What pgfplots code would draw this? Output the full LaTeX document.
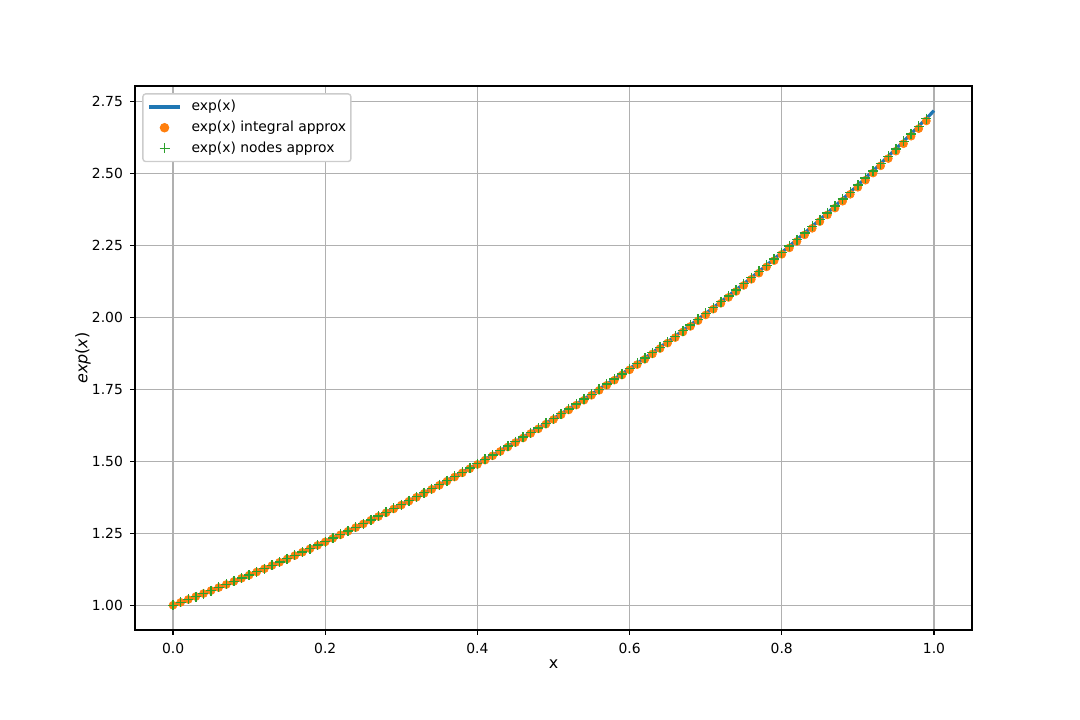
\documentclass[border=0pt]{standalone}
\usepackage{fontspec}
\setmainfont{DejaVu Sans}
\usepackage{pgfplots}
\usepackage{pgfplotstable}
\pgfplotsset{compat=1.18}

\definecolor{tabblue}{HTML}{1F77B4}
\definecolor{taborange}{HTML}{FF7F0E}
\definecolor{tabgreen}{HTML}{2CA02C}
\definecolor{gridgray}{HTML}{B0B0B0}
\definecolor{legendgray}{HTML}{CCCCCC}

\pgfplotsset{
  legline/.style={legend image code/.code={\draw[##1] (0pt,0pt) -- (22pt,0pt);}},
  legmark/.style={legend image code/.code={\draw[##1] plot coordinates {(11pt,0pt)};}},
}

% x, exp(x), integral approximation, nodes approximation
\pgfplotstableread{
x exact integral nodes
0.00 1.00000 1.00000 1.00000
0.01 1.01005 1.01000 1.01005
0.02 1.02020 1.02010 1.02020
0.03 1.03045 1.03030 1.03045
0.04 1.04081 1.04061 1.04081
0.05 1.05127 1.05101 1.05127
0.06 1.06184 1.06153 1.06184
0.07 1.07251 1.07215 1.07251
0.08 1.08329 1.08287 1.08329
0.09 1.09417 1.09370 1.09417
0.10 1.10517 1.10464 1.10517
0.11 1.11628 1.11570 1.11628
0.12 1.12750 1.12686 1.12750
0.13 1.13883 1.13814 1.13883
0.14 1.15027 1.14952 1.15027
0.15 1.16183 1.16102 1.16183
0.16 1.17351 1.17264 1.17351
0.17 1.18530 1.18437 1.18530
0.18 1.19722 1.19623 1.19722
0.19 1.20925 1.20820 1.20925
0.20 1.22140 1.22029 1.22140
0.21 1.23368 1.23251 1.23368
0.22 1.24608 1.24485 1.24608
0.23 1.25860 1.25731 1.25860
0.24 1.27125 1.26989 1.27125
0.25 1.28403 1.28261 1.28403
0.26 1.29693 1.29545 1.29693
0.27 1.30996 1.30841 1.30996
0.28 1.32313 1.32151 1.32313
0.29 1.33643 1.33475 1.33643
0.30 1.34986 1.34811 1.34986
0.31 1.36343 1.36161 1.36343
0.32 1.37713 1.37524 1.37713
0.33 1.39097 1.38902 1.39097
0.34 1.40495 1.40293 1.40495
0.35 1.41907 1.41697 1.41907
0.36 1.43333 1.43116 1.43333
0.37 1.44773 1.44549 1.44773
0.38 1.46228 1.45997 1.46228
0.39 1.47698 1.47460 1.47698
0.40 1.49182 1.48936 1.49182
0.41 1.50682 1.50429 1.50682
0.42 1.52196 1.51935 1.52196
0.43 1.53726 1.53457 1.53726
0.44 1.55271 1.54995 1.55271
0.45 1.56831 1.56547 1.56831
0.46 1.58407 1.58115 1.58407
0.47 1.59999 1.59699 1.59999
0.48 1.61607 1.61299 1.61607
0.49 1.63232 1.62916 1.63232
0.50 1.64872 1.64548 1.64872
0.51 1.66529 1.66196 1.66529
0.52 1.68203 1.67862 1.68203
0.53 1.69893 1.69544 1.69893
0.54 1.71601 1.71243 1.71601
0.55 1.73325 1.72958 1.73325
0.56 1.75067 1.74692 1.75067
0.57 1.76827 1.76443 1.76827
0.58 1.78604 1.78211 1.78604
0.59 1.80399 1.79997 1.80399
0.60 1.82212 1.81801 1.82212
0.61 1.84043 1.83623 1.84043
0.62 1.85893 1.85464 1.85893
0.63 1.87761 1.87322 1.87761
0.64 1.89648 1.89200 1.89648
0.65 1.91554 1.91096 1.91554
0.66 1.93479 1.93012 1.93479
0.67 1.95424 1.94947 1.95424
0.68 1.97388 1.96901 1.97388
0.69 1.99372 1.98875 1.99372
0.70 2.01375 2.00868 2.01375
0.71 2.03399 2.02882 2.03399
0.72 2.05443 2.04916 2.05443
0.73 2.07508 2.06970 2.07508
0.74 2.09594 2.09046 2.09594
0.75 2.11700 2.11141 2.11700
0.76 2.13828 2.13259 2.13828
0.77 2.15977 2.15397 2.15977
0.78 2.18147 2.17556 2.18147
0.79 2.20340 2.19738 2.20340
0.80 2.22554 2.21941 2.22554
0.81 2.24791 2.24167 2.24791
0.82 2.27050 2.26415 2.27050
0.83 2.29332 2.28685 2.29332
0.84 2.31637 2.30979 2.31637
0.85 2.33965 2.33295 2.33965
0.86 2.36316 2.35634 2.36316
0.87 2.38691 2.37998 2.38691
0.88 2.41090 2.40385 2.41090
0.89 2.43513 2.42795 2.43513
0.90 2.45960 2.45230 2.45960
0.91 2.48432 2.47690 2.48432
0.92 2.50929 2.50174 2.50929
0.93 2.53451 2.52684 2.53451
0.94 2.55998 2.55218 2.55998
0.95 2.58571 2.57778 2.58571
0.96 2.61170 2.60364 2.61170
0.97 2.63794 2.62975 2.63794
0.98 2.66446 2.65614 2.66446
0.99 2.69123 2.68277 2.69123
1.00 2.71828 nan nan
}\expdata

\begin{document}
\begin{tikzpicture}
  \useasboundingbox (0,0) rectangle (777.6pt,518.4pt);
  \begin{axis}[
      at={(97.2pt,64.8pt)}, anchor=south west,
      scale only axis,
      width=602.64pt, height=391.68pt,
      xmin=-0.05, xmax=1.05,
      ymin=0.914086, ymax=2.804196,
      xtick={0,0.2,0.4,0.6,0.8,1.0},
      ytick={1.00,1.25,1.50,1.75,2.00,2.25,2.50,2.75},
      scaled ticks=false,
      /pgf/number format/assume math mode=true,
      xticklabel={\pgfmathprintnumber[assume math mode=true, fixed, fixed zerofill, precision=1]{\tick}},
      yticklabel={\pgfmathprintnumber[assume math mode=true, fixed, fixed zerofill, precision=2]{\tick}},
      tick label style={font=\fontsize{10}{12}\selectfont, inner sep=0pt},
      xticklabel style={anchor=north, yshift=-5.8pt},
      yticklabel style={anchor=east, xshift=-5pt},
      tick pos=left,
      tick align=outside,
      major tick length=3.5pt,
      tick style={black, line width=0.8pt},
      axis line style={black, line width=0.8pt},
      grid=major,
      grid style={gridgray, line width=0.8pt},
      unbounded coords=discard,
      xlabel={x},
      ylabel={{\itshape exp}({\itshape x})},
      label style={font=\fontsize{11.5}{13}\selectfont, inner sep=0pt},
      xlabel style={at={(axis description cs:0.5,-0.070)}, anchor=base},
      ylabel style={at={(axis description cs:-0.0621,0.5)}, anchor=center},
      legend cell align=left,
      legend style={
        at={(0,1)}, anchor=north west, xshift=5.2pt, yshift=-5.2pt,
        draw=legendgray, line width=1pt, fill=white,
        rounded corners=2pt,
        font=\fontsize{10}{12}\selectfont,
        inner xsep=3.4pt, inner ysep=2pt, row sep=0pt,
        nodes={inner xsep=0pt, inner ysep=2.55pt, text height=7.6pt, text depth=2.2pt},
        /tikz/every odd column/.append style={column sep=7.3pt},
      },
    ]
    \addplot[tabblue, line width=2.3pt, legline]
      table[x=x, y=exact] {\expdata};
    \addlegendentry{exp(x)}
    \addplot[only marks, mark=*, mark size=2.9pt, taborange,
      mark options={draw=taborange, fill=taborange}, legmark]
      table[x=x, y=integral] {\expdata};
    \addlegendentry{exp(x) integral approx}
    \addplot[only marks, mark=+, mark size=3.6pt, tabgreen,
      mark options={line width=1pt}, legmark]
      table[x=x, y=nodes] {\expdata};
    \addlegendentry{exp(x) nodes approx}
  \end{axis}
\end{tikzpicture}
\end{document}
